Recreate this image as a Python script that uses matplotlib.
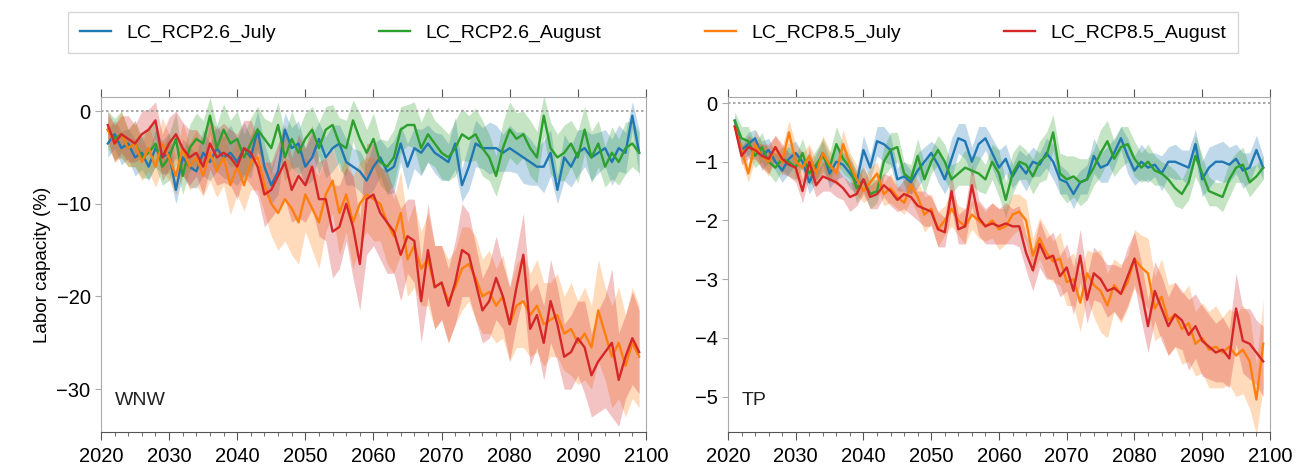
import matplotlib
matplotlib.use("Agg")
import matplotlib.pyplot as plt
from matplotlib.ticker import MultipleLocator
import numpy as np

plt.rcParams["font.family"] = ["Liberation Sans", "DejaVu Sans"]

years = list(range(2021, 2100))
labels = ["LC_RCP2.6_July", "LC_RCP2.6_August", "LC_RCP8.5_July", "LC_RCP8.5_August"]
colors = ["#1f77b4", "#2ca02c", "#ff7f0e", "#d62728"]

# ---- WNW ----
wnw_26_jul = [-3.5, -2.5, -4, -3.5, -5, -4.5, -6, -4, -5, -4.5,
              -8.5, -5, -6, -6.5, -4.5, -5.5, -4, -5, -4.5, -5.5,
              -4, -5, -2, -6, -8, -6.5, -2, -4, -3.5, -6,
              -5, -3, -5, -4, -3.5, -5.5, -6, -6.5, -7.5, -6,
              -5, -6.5, -6, -3.5, -6, -4, -4.5, -3.5, -4.5, -5,
              -5.5, -3.5, -8, -6, -3.5, -4, -4, -4, -4.5, -4,
              -4.5, -5, -5.5, -6, -6, -4.5, -8.5, -5, -6, -4.5,
              -4, -5, -4.5, -4, -5.5, -4, -4.5, -0.5, -4.5]
wnw_26_aug = [-2, -3, -2.5, -4, -3.5, -5, -4.5, -3.5, -6, -5,
              -3, -7, -4, -3, -3.5, -0.5, -4, -2, -3.5, -3,
              -5, -3.5, -2, -3, -4, -1.5, -5, -3, -4.5, -3,
              -2, -4, -2, -1.5, -3.5, -4, -1, -3, -4.5, -3,
              -5.5, -6, -5, -2, -1.5, -1.5, -4, -2.5, -3.5, -4.5,
              -5, -4, -2.5, -3, -2.5, -4, -5, -7, -4, -2,
              -3, -2.5, -4, -5, -0.5, -4, -5, -4.5, -3.5, -5,
              -2, -5, -3.5, -6, -4.5, -5.5, -4, -3.5, -4.5]
wnw_85_jul = [-2, -3.5, -2.5, -4, -3.5, -5.5, -4, -6, -3.5, -5,
              -7, -4, -6, -5, -7, -4.5, -6.5, -5, -8, -6,
              -8, -5.5, -5, -8, -10, -11, -9.5, -10.5, -12, -9,
              -10.5, -12, -9, -7.5, -11, -9, -12, -10, -9, -9.5,
              -10, -12, -13.5, -11, -16, -14.5, -17, -16, -19, -18.5,
              -20.5, -19, -17, -16.5, -18, -20, -19.5, -21, -20, -23,
              -21, -20.5, -22, -21, -23, -22.5, -22, -24, -23.5, -25,
              -24, -25.5, -21.5, -24, -26.5, -25, -27.5, -25, -26.5]
wnw_85_aug = [-1.5, -3.5, -2.5, -3, -3.5, -2.5, -2, -1, -5, -3.5,
              -2.5, -4, -5, -4.5, -6, -3.5, -5, -4.5, -5, -6,
              -4, -4.5, -6, -9, -8.5, -7, -5.5, -8.5, -7, -8,
              -6, -9.5, -9.5, -13, -12.5, -10, -12.5, -16.5, -9.5, -9,
              -11, -12, -13, -15.5, -13.5, -14, -20.5, -15, -19, -18.5,
              -21, -18.5, -15, -15.5, -18.5, -21.5, -20.5, -18, -20, -23,
              -19, -15.5, -23.5, -22, -25, -20.5, -23, -26.5, -26, -24.5,
              -25.5, -28.5, -27, -26, -25, -29, -26.5, -24.5, -26]
# half widths of the shaded ranges
wnw_26_jul_sd = [1.5, 1.5, 1.8, 1.6, 2.0, 1.8, 1.5, 2.0, 1.8, 2.2,
                 1.5, 2.0, 2.2, 1.8, 2.5, 2.0, 2.5, 2.2, 3.0, 2.5,
                 2.8, 2.2, 2.0, 2.5, 2.0, 2.5, 1.8, 2.2, 2.5, 2.0,
                 2.5, 1.8, 2.2, 2.5, 2.0, 2.5, 2.0, 2.2, 1.8, 2.5,
                 2.0, 2.5, 2.8, 2.0, 2.5, 2.2, 2.5, 2.0, 2.2, 2.5,
                 2.0, 2.8, 1.8, 2.5, 2.5, 2.2, 2.8, 2.5, 2.0, 2.5,
                 2.2, 2.8, 2.5, 2.0, 2.8, 2.5, 1.5, 2.5, 2.2, 2.5,
                 2.0, 2.5, 2.2, 2.0, 2.5, 2.5, 2.2, 1.5, 2.5]
wnw_26_aug_sd = [2.0, 2.2, 2.5, 2.0, 2.5, 2.2, 2.8, 2.5, 2.0, 2.5,
                 2.8, 2.0, 2.5, 2.8, 2.5, 2.0, 2.5, 2.8, 2.5, 3.0,
                 2.5, 2.8, 2.5, 2.2, 2.8, 2.5, 2.5, 3.0, 2.5, 2.8,
                 2.5, 2.8, 2.5, 2.2, 2.8, 3.0, 2.2, 2.8, 2.5, 2.8,
                 2.5, 2.8, 3.0, 2.5, 2.2, 2.5, 2.8, 3.0, 2.5, 2.8,
                 2.5, 3.0, 2.8, 2.5, 2.8, 3.0, 2.5, 2.2, 2.8, 3.0,
                 2.8, 2.5, 3.0, 2.8, 2.2, 2.8, 2.5, 3.0, 2.5, 2.8,
                 2.5, 2.8, 2.5, 2.2, 2.8, 2.5, 2.8, 2.5, 2.2]
wnw_85_jul_sd = [1.5, 2.0, 2.5, 2.0, 2.5, 2.0, 2.5, 2.2, 2.8, 2.5,
                 2.0, 2.8, 2.5, 3.0, 2.2, 3.0, 2.8, 3.0, 3.2, 3.0,
                 2.8, 3.0, 3.5, 3.0, 3.5, 4.0, 4.5, 5.0, 4.5, 4.0,
                 4.5, 5.0, 4.0, 3.5, 4.5, 4.0, 5.0, 4.5, 4.0, 4.5,
                 4.0, 4.5, 4.0, 4.5, 4.0, 4.5, 4.0, 5.0, 4.5, 4.0,
                 4.5, 4.0, 4.5, 4.0, 4.5, 4.0, 4.5, 4.0, 4.5, 4.0,
                 4.5, 5.0, 4.5, 5.0, 4.5, 4.0, 4.5, 4.0, 5.0, 4.5,
                 5.0, 4.5, 5.5, 5.0, 5.5, 6.0, 5.5, 6.0, 5.5]
wnw_85_aug_sd = [1.5, 2.0, 2.0, 2.5, 2.0, 2.5, 2.2, 2.0, 2.5, 2.8,
                 2.5, 2.8, 3.0, 2.5, 3.0, 2.8, 3.0, 3.2, 3.0, 3.5,
                 3.0, 3.5, 3.2, 3.5, 3.0, 3.5, 4.0, 3.5, 4.5, 4.0,
                 4.5, 4.0, 4.5, 5.0, 4.5, 4.0, 5.5, 5.0, 6.0, 5.5,
                 5.0, 5.5, 4.5, 5.0, 4.0, 4.5, 4.5, 5.0, 4.5, 4.0,
                 4.0, 4.5, 5.0, 4.5, 4.0, 3.5, 4.0, 4.5, 3.5, 4.0,
                 4.0, 4.5, 4.0, 3.5, 4.0, 4.5, 4.0, 3.5, 4.0, 4.0,
                 5.0, 4.5, 5.5, 6.0, 8.0, 5.0, 4.5, 5.0, 4.5]

# ---- TP ----
tp_26_jul = [-0.3, -0.8, -0.7, -0.6, -0.9, -0.8, -1.0, -1.15, -0.95, -0.85,
             -1.0, -1.35, -1.1, -0.85, -1.2, -1.0, -1.05, -1.2, -1.35, -0.8,
             -1.1, -0.65, -0.7, -0.8, -1.3, -1.25, -1.35, -1.15, -1.0, -0.85,
             -1.05, -1.3, -0.95, -0.6, -0.65, -1.0, -0.7, -0.6, -0.85, -1.1,
             -0.95, -1.25, -1.05, -1.2, -1.0, -1.05, -0.85, -1.0, -1.3, -1.35,
             -1.55, -1.35, -1.3, -0.9, -1.1, -1.05, -0.85, -0.6, -0.9, -1.15,
             -1.0, -1.1, -1.05, -1.2, -1.0, -1.0, -1.05, -1.1, -0.7, -1.3,
             -1.1, -1.0, -1.0, -1.05, -0.95, -1.15, -1.1, -0.8, -1.1]
tp_26_aug = [-0.3, -0.6, -0.65, -0.9, -0.75, -1.0, -1.1, -0.95, -1.0, -1.1,
             -0.85, -1.2, -1.05, -0.9, -1.1, -0.7, -0.95, -1.1, -1.45, -1.3,
             -1.55, -1.5, -1.0, -0.8, -0.75, -1.2, -1.3, -0.9, -1.3, -1.0,
             -0.8, -1.0, -1.3, -1.2, -1.1, -1.15, -1.2, -1.3, -1.0, -1.2,
             -1.65, -1.2, -1.0, -1.05, -1.25, -1.0, -0.9, -0.5, -1.2, -1.3,
             -1.25, -1.35, -1.3, -1.1, -0.85, -0.65, -0.95, -0.75, -0.7, -0.95,
             -1.1, -1.0, -1.15, -1.2, -1.3, -1.45, -1.55, -1.35, -0.9, -1.2,
             -1.5, -1.55, -1.6, -1.3, -1.1, -1.05, -1.35, -1.25, -1.1]
tp_85_jul = [-0.4, -0.8, -1.2, -0.7, -0.9, -1.0, -0.75, -1.0, -0.5, -1.0,
             -1.1, -0.9, -1.2, -0.85, -1.05, -1.2, -0.7, -1.05, -1.3, -1.5,
             -1.35, -1.2, -1.55, -1.45, -1.6, -1.7, -1.4, -1.6, -1.9, -1.8,
             -2.15, -2.0, -1.8, -2.0, -2.1, -1.9, -2.0, -2.1, -2.0, -2.15,
             -2.1, -1.9, -1.85, -2.0, -2.6, -2.3, -2.55, -2.7, -2.65, -3.05,
             -3.0, -3.4, -2.9, -3.1, -3.2, -3.45, -3.1, -3.25, -3.05, -2.65,
             -2.8, -2.9, -3.5, -3.3, -3.7, -3.6, -3.85, -3.75, -4.1, -4.0,
             -4.2, -4.15, -4.25, -4.15, -4.3, -4.2, -4.4, -5.05, -4.1]
tp_85_aug = [-0.4, -0.9, -0.75, -0.8, -0.9, -0.95, -0.75, -0.95, -1.05, -1.1,
             -1.5, -1.0, -1.4, -1.25, -1.3, -1.35, -1.45, -1.6, -1.55, -1.3,
             -1.6, -1.55, -1.4, -1.5, -1.65, -1.55, -1.6, -1.75, -1.8, -1.85,
             -2.15, -2.2, -1.5, -2.15, -2.1, -1.4, -1.95, -2.1, -2.05, -2.1,
             -2.05, -2.1, -2.1, -2.55, -2.85, -2.4, -2.65, -2.6, -2.95, -2.8,
             -3.2, -2.6, -3.35, -2.9, -3.0, -3.2, -3.15, -3.25, -2.95, -2.65,
             -3.2, -3.8, -3.2, -3.5, -3.8, -3.6, -3.7, -3.95, -3.8, -4.05,
             -4.15, -4.25, -4.2, -4.35, -3.5, -4.05, -4.1, -4.25, -4.4]
tp_26_jul_sd = [0.10, 0.15, 0.20, 0.15, 0.25, 0.20, 0.15, 0.20, 0.25, 0.20,
                0.15, 0.20, 0.25, 0.20, 0.25, 0.30, 0.20, 0.25, 0.20, 0.25,
                0.20, 0.25, 0.30, 0.25, 0.20, 0.25, 0.20, 0.30, 0.25, 0.20,
                0.30, 0.25, 0.35, 0.25, 0.30, 0.25, 0.30, 0.20, 0.25, 0.30,
                0.25, 0.20, 0.25, 0.30, 0.25, 0.20, 0.25, 0.30, 0.25, 0.20,
                0.25, 0.20, 0.25, 0.30, 0.25, 0.30, 0.25, 0.20, 0.30, 0.25,
                0.30, 0.25, 0.20, 0.30, 0.25, 0.30, 0.25, 0.30, 0.25, 0.30,
                0.35, 0.30, 0.35, 0.30, 0.25, 0.30, 0.25, 0.25, 0.20]
tp_26_aug_sd = [0.15, 0.20, 0.25, 0.20, 0.25, 0.20, 0.25, 0.20, 0.25, 0.20,
                0.25, 0.20, 0.25, 0.30, 0.25, 0.30, 0.25, 0.20, 0.25, 0.20,
                0.25, 0.20, 0.25, 0.30, 0.25, 0.20, 0.25, 0.30, 0.25, 0.20,
                0.25, 0.30, 0.25, 0.20, 0.30, 0.25, 0.30, 0.25, 0.30, 0.40,
                0.30, 0.35, 0.30, 0.25, 0.30, 0.35, 0.40, 0.30, 0.35, 0.40,
                0.35, 0.40, 0.35, 0.30, 0.40, 0.35, 0.30, 0.35, 0.30, 0.30,
                0.25, 0.30, 0.25, 0.20, 0.25, 0.30, 0.25, 0.30, 0.35, 0.30,
                0.25, 0.20, 0.25, 0.30, 0.25, 0.30, 0.25, 0.20, 0.20]
tp_85_jul_sd = [0.10, 0.20, 0.15, 0.25, 0.20, 0.25, 0.20, 0.25, 0.20, 0.30,
                0.25, 0.20, 0.25, 0.30, 0.25, 0.20, 0.25, 0.20, 0.25, 0.20,
                0.25, 0.20, 0.20, 0.25, 0.20, 0.20, 0.25, 0.30, 0.30, 0.25,
                0.30, 0.25, 0.30, 0.25, 0.30, 0.25, 0.30, 0.25, 0.30, 0.35,
                0.30, 0.35, 0.30, 0.35, 0.30, 0.35, 0.40, 0.35, 0.45, 0.40,
                0.45, 0.50, 0.40, 0.55, 0.70, 0.55, 0.45, 0.50, 0.45, 0.50,
                0.55, 0.60, 0.55, 0.65, 0.60, 0.55, 0.60, 0.65, 0.55, 0.60,
                0.65, 0.70, 0.60, 0.65, 0.70, 0.75, 0.80, 0.60, 0.75]
tp_85_aug_sd = [0.10, 0.15, 0.20, 0.15, 0.20, 0.25, 0.20, 0.25, 0.20, 0.25,
                0.20, 0.25, 0.20, 0.25, 0.20, 0.25, 0.20, 0.25, 0.20, 0.25,
                0.20, 0.25, 0.20, 0.25, 0.20, 0.25, 0.30, 0.25, 0.30, 0.25,
                0.30, 0.25, 0.30, 0.25, 0.30, 0.35, 0.30, 0.30, 0.35, 0.30,
                0.35, 0.30, 0.35, 0.30, 0.35, 0.40, 0.35, 0.40, 0.35, 0.40,
                0.40, 0.45, 0.40, 0.45, 0.40, 0.45, 0.40, 0.45, 0.50, 0.45,
                0.50, 0.45, 0.50, 0.55, 0.50, 0.55, 0.50, 0.60, 0.55, 0.60,
                0.55, 0.50, 0.55, 0.50, 0.60, 0.55, 0.60, 0.55, 0.60]

panels = [
    ("WNW", [wnw_26_jul, wnw_26_aug, wnw_85_jul, wnw_85_aug],
     [wnw_26_jul_sd, wnw_26_aug_sd, wnw_85_jul_sd, wnw_85_aug_sd],
     (-34.6, 1.5), [0, -10, -20, -30]),
    ("TP", [tp_26_jul, tp_26_aug, tp_85_jul, tp_85_aug],
     [tp_26_jul_sd, tp_26_aug_sd, tp_85_jul_sd, tp_85_aug_sd],
     (-5.6, 0.1), [0, -1, -2, -3, -4, -5]),
]

fig = plt.figure(figsize=(13.06, 4.74), dpi=100)
rects = [[0.0773, 0.089, 0.4173, 0.706], [0.5574, 0.089, 0.415, 0.706]]

handles = []
for rect, (name, series, spreads, ylim, yticks) in zip(rects, panels):
    ax = fig.add_axes(rect)
    x = np.array(years)
    for vals, sd, col in zip(series, spreads, colors):
        v = np.array(vals)
        s = np.array(sd)
        ax.fill_between(x, v - s, v + s, color=col, alpha=0.28, lw=0)
    for vals, col, lab in zip(series, colors, labels):
        h, = ax.plot(x, vals, color=col, lw=1.7, label=lab)
        if name == "WNW":
            handles.append(h)
    ax.axhline(0, color="#999999", lw=1.2, ls=(0, (1.5, 1.5)))
    ax.set_xlim(2020, 2100)
    ax.set_ylim(*ylim)
    ax.set_yticks(yticks)
    ax.set_yticklabels([str(t).replace("-", "\u2212") for t in yticks])
    ax.set_xticks(range(2020, 2101, 10))
    ax.xaxis.set_minor_locator(MultipleLocator(2))
    for side in ["left", "top", "right"]:
        ax.spines[side].set_color("#aaaaaa")
    ax.spines["bottom"].set_color("#555555")
    ax.tick_params(axis="x", which="major", length=6, color="#555555",
                   labelsize=14.5, pad=5, top=True)
    ax.tick_params(axis="x", which="minor", length=3, color="#555555", top=False)
    ax.tick_params(axis="y", length=4, color="#aaaaaa", labelsize=14.5)
    ax.text(0.025, 0.08, name, transform=ax.transAxes, fontsize=14, color="#222222")
    if name == "WNW":
        ax.set_ylabel("Labor capacity (%)", fontsize=13.5, labelpad=4)

fig.legend(handles=handles, labels=labels, loc="upper center",
           bbox_to_anchor=(0.5, 0.995), ncol=4, fontsize=14,
           frameon=True, fancybox=False, edgecolor="#cccccc",
           columnspacing=5.3, handlelength=1.6, borderpad=0.6)

fig.savefig("out.png", dpi=100)
